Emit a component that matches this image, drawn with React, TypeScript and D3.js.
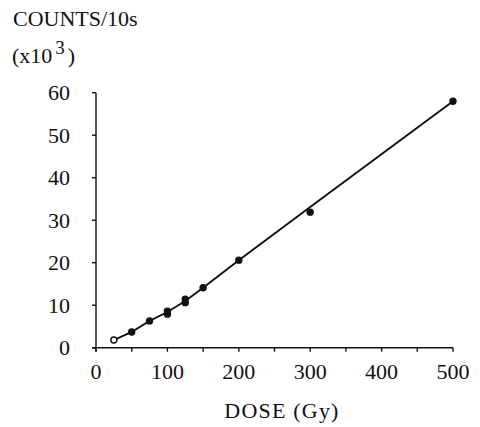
import React, { useEffect, useRef } from 'react';
import * as d3 from 'd3';

// measured points (dose in Gy, counts per 10 s in thousands)
const doses = [25, 50, 75, 100, 100, 125, 125, 150, 200, 300, 500];
const counts = [1.8, 3.7, 6.3, 8.6, 7.9, 11.4, 10.6, 14.1, 20.6, 31.9, 58];

// drawn curve through the data
const lineDoses = [25, 50, 75, 100, 125, 150, 200, 300, 500];
const lineCounts = [1.8, 3.7, 6.3, 8.4, 11.0, 14.1, 20.6, 33.1, 58];

const xTicks = [0, 50, 100, 150, 200, 250, 300, 350, 400, 450, 500];
const xLabels = [0, 100, 200, 300, 400, 500];
const yTicks = [0, 10, 20, 30, 40, 50, 60];

export default function App() {
  const svgRef = useRef<SVGSVGElement>(null);

  useEffect(() => {
    document.body.style.margin = '0';
    if (!svgRef.current) return;

    const width = 480;
    const height = 427;
    const font = '"Liberation Serif", "Times New Roman", serif';

    const svg = d3.select(svgRef.current);
    svg.selectAll('*').remove();
    svg.attr('width', width).attr('height', height).style('background', '#fff');

    const x = d3.scaleLinear().domain([0, 500]).range([96, 453]);
    const y = d3.scaleLinear().domain([0, 60]).range([347.7, 92.7]);

    // y axis
    svg.append('line')
      .attr('x1', x(0)).attr('x2', x(0))
      .attr('y1', y(60)).attr('y2', y(0) + 4)
      .attr('stroke', '#111').attr('stroke-width', 1.4);
    svg.selectAll('.ytick')
      .data(yTicks)
      .join('line')
        .attr('x1', x(0) - 4).attr('x2', x(0))
        .attr('y1', d => y(d)).attr('y2', d => y(d))
        .attr('stroke', '#111').attr('stroke-width', 1.4);
    svg.selectAll('.ylab')
      .data(yTicks)
      .join('text')
        .attr('x', 70).attr('y', d => y(d))
        .attr('dy', '0.35em')
        .attr('text-anchor', 'end')
        .style('font-family', font)
        .style('font-size', '22px')
        .style('fill', '#111')
        .text(d => d);

    // x axis
    svg.append('line')
      .attr('x1', x(0) - 4).attr('x2', x(500))
      .attr('y1', y(0)).attr('y2', y(0))
      .attr('stroke', '#111').attr('stroke-width', 1.6);
    svg.selectAll('.xtick')
      .data(xTicks)
      .join('line')
        .attr('x1', d => x(d)).attr('x2', d => x(d))
        .attr('y1', y(0)).attr('y2', y(0) + 4)
        .attr('stroke', '#111').attr('stroke-width', 1.4);
    svg.selectAll('.xlab')
      .data(xLabels)
      .join('text')
        .attr('x', d => x(d)).attr('y', 379)
        .attr('text-anchor', 'middle')
        .style('font-family', font)
        .style('font-size', '22px')
        .style('fill', '#111')
        .text(d => d);

    svg.append('text')
      .attr('x', 282).attr('y', 418)
      .attr('text-anchor', 'middle')
      .style('font-family', font)
      .style('font-size', '22px')
      .style('letter-spacing', '1.2px')
      .style('fill', '#111')
      .text('DOSE (Gy)');

    // y title
    svg.append('text')
      .attr('x', 13).attr('y', 26)
      .style('font-family', font)
      .style('font-size', '22px')
      .style('fill', '#111')
      .text('COUNTS/10s');
    const t2 = svg.append('text')
      .attr('x', 12).attr('y', 63)
      .style('font-family', font)
      .style('font-size', '22px')
      .style('fill', '#111');
    t2.append('tspan').text('(x10');
    t2.append('tspan').attr('dy', -9).attr('dx', 3).style('font-size', '19px').text('3');
    t2.append('tspan').attr('dy', 9).attr('dx', 3).text(')');

    // curve
    const pts: [number, number][] = lineDoses.map((d, i) => [d, lineCounts[i]]);
    svg.append('path')
      .datum(pts)
      .attr('fill', 'none')
      .attr('stroke', '#111')
      .attr('stroke-width', 1.9)
      .attr('d', d3.line<[number, number]>().x(d => x(d[0])).y(d => y(d[1])));

    // points
    svg.selectAll('.pt')
      .data(doses.map((d, i) => ({ d, c: counts[i], i })))
      .join('circle')
        .attr('cx', p => x(p.d))
        .attr('cy', p => y(p.c))
        .attr('r', 3)
        .attr('fill', p => (p.i === 0 ? '#fff' : '#111'))
        .attr('stroke', '#111')
        .attr('stroke-width', 1.4);
  }, []);

  return <svg ref={svgRef} style={{ display: 'block' }}></svg>;
}
